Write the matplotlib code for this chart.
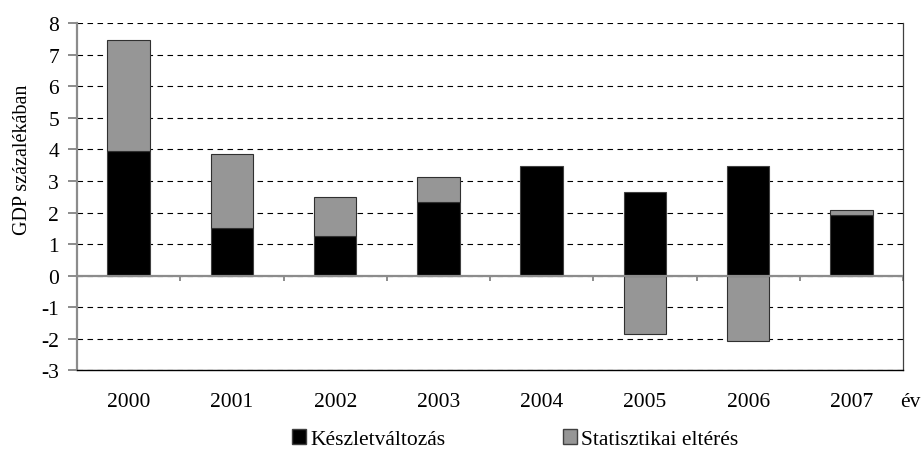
import numpy as np
import matplotlib.pyplot as plt
from matplotlib.patches import Patch

plt.rcParams['font.family'] = ['Liberation Serif', 'DejaVu Serif']
plt.rcParams['axes.unicode_minus'] = False

years = ['2000', '2001', '2002', '2003', '2004', '2005', '2006', '2007']
keszlet = [3.96, 1.52, 1.26, 2.32, 3.49, 2.66, 3.47, 1.91]
stat = [3.51, 2.35, 1.22, 0.82, 0.0, -1.87, -2.09, 0.18]

x = np.arange(len(years))
bar_width = 0.41
gray = '#969696'
fs = 15.5

fig = plt.figure(figsize=(9.21, 4.52), dpi=100)
ax = fig.add_axes([0.0836, 0.1792, 0.8969, 0.7666])

ax.bar(x, keszlet, width=bar_width, color='black', edgecolor='#404040', linewidth=0.8, zorder=3)
# the positive part of the statistical gap sits on top, the negative part hangs below zero
stat_arr = np.array(stat)
bottoms = np.where(stat_arr > 0, np.array(keszlet), 0)
mask = stat_arr != 0
ax.bar(x[mask], stat_arr[mask], bottom=bottoms[mask], width=bar_width, color=gray,
       edgecolor='#303030', linewidth=0.8, zorder=3)

ax.set_xlim(-0.5, len(years) - 0.5)
ax.set_ylim(-3, 8)
ax.set_yticks(np.arange(-3, 9, 1))
ax.yaxis.grid(True, linestyle=(0, (5, 4)), color='black', linewidth=0.8)
ax.set_axisbelow(True)

# category axis sits on zero, with ticks between the groups
ax.axhline(0, color='#8c8c8c', linewidth=1.6, zorder=4)
ax.vlines(np.arange(-0.5, len(years), 1), -0.17, 0, color='#8c8c8c', linewidth=1.4, zorder=4)

ax.spines['top'].set_visible(False)
ax.spines['left'].set_color('#8c8c8c')
ax.spines['left'].set_linewidth(1.6)
ax.spines['right'].set_color('#404040')
ax.spines['right'].set_linewidth(0.9)
ax.spines['bottom'].set_color('black')
ax.spines['bottom'].set_linewidth(1.0)

ax.set_xticks(x)
ax.set_xticklabels(years, fontsize=fs)
ax.tick_params(axis='x', length=0, pad=16)
ax.tick_params(axis='y', labelsize=fs, length=6.5, width=1.4, color='#8c8c8c', pad=6.5)

ax.text(0.9965, -0.091, 'év', transform=ax.transAxes, ha='left', va='center', fontsize=fs)

ax.set_ylabel('GDP százalékában', fontsize=14.5)
ax.yaxis.set_label_coords(-0.054, 0.61)

fig.legend(handles=[Patch(facecolor='black', edgecolor='#404040', label='Készletváltozás')],
           loc='center left', bbox_to_anchor=(0.317, 0.026), frameon=False, fontsize=fs,
           handlelength=0.65, handleheight=0.65, handletextpad=0.2,
           borderpad=0, borderaxespad=0)
fig.legend(handles=[Patch(facecolor=gray, edgecolor='#404040', label='Statisztikai eltérés')],
           loc='center left', bbox_to_anchor=(0.611, 0.026), frameon=False, fontsize=fs,
           handlelength=0.65, handleheight=0.65, handletextpad=0.2,
           borderpad=0, borderaxespad=0)

fig.savefig('out.png', dpi=100)
